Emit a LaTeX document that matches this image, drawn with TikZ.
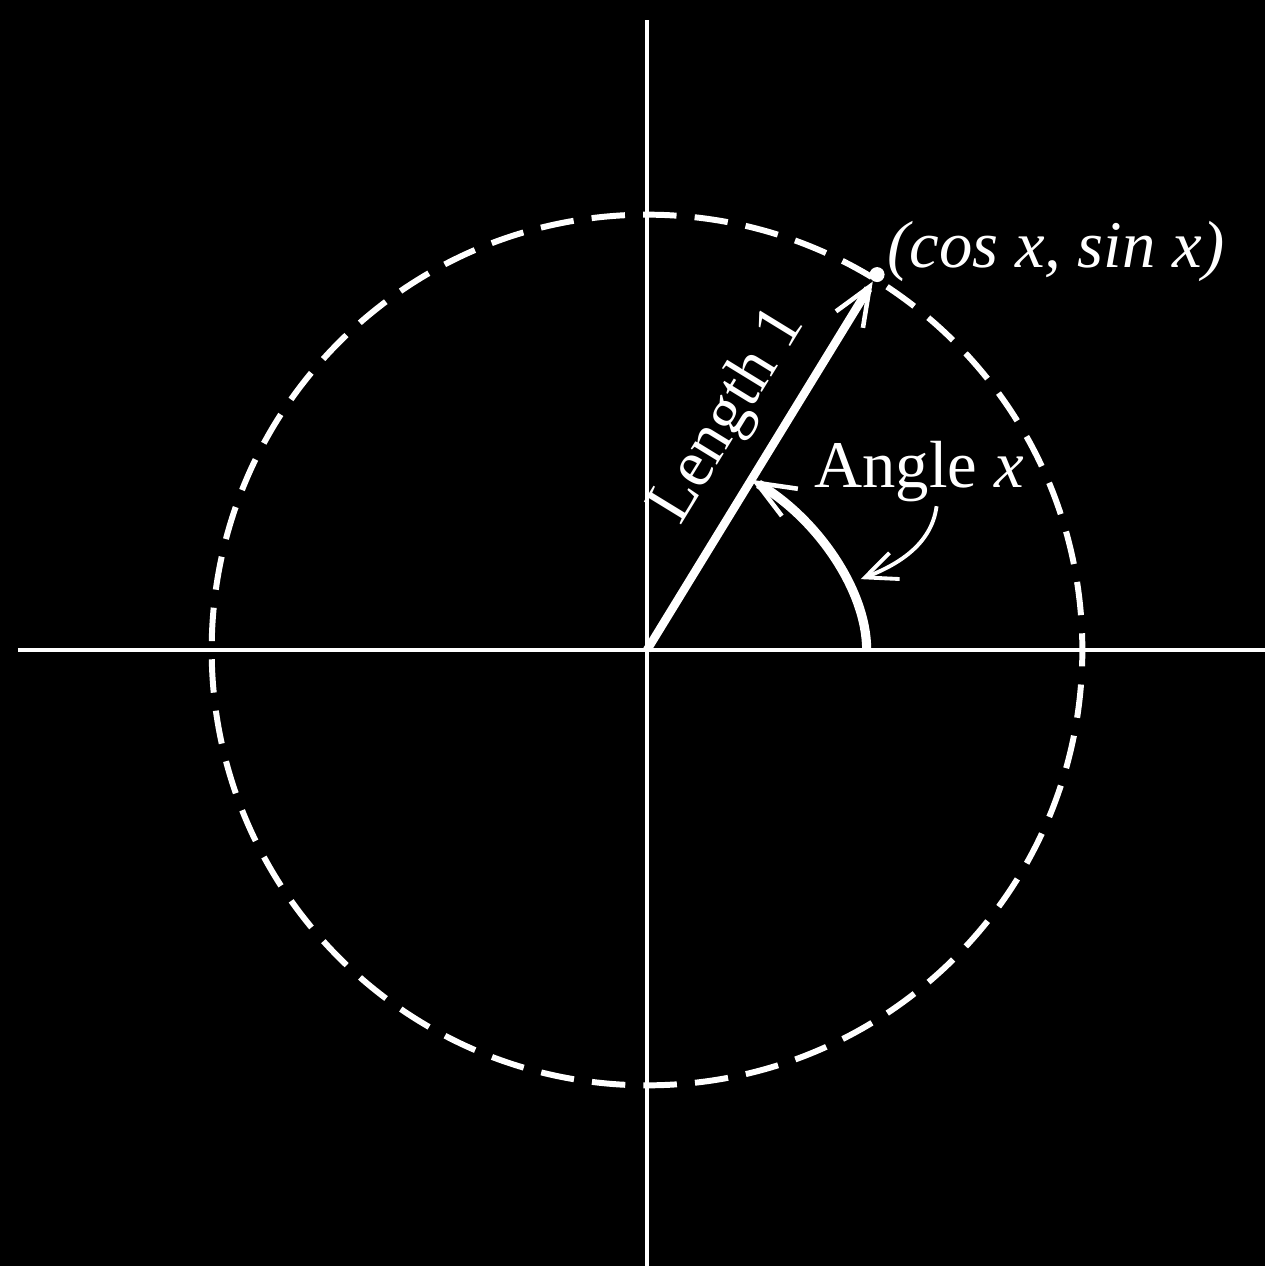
\documentclass[tikz,border=0pt]{standalone}
\usepackage{fontspec}
\setmainfont{Liberation Serif}
\usepackage{tikz}
\usepackage{xcolor}
\usetikzlibrary{arrows.meta, positioning}
\definecolor{board}{RGB}{0,0,0}
\definecolor{chalk}{RGB}{255,255,255}
\tikzstyle{axis}=[draw=chalk, line width=1.1pt]
\tikzstyle{unitcirc}=[draw=chalk, line width=1.7pt,
  dash pattern=on 0.335cm off 0.182cm, dash phase=0.1675cm]
\tikzstyle{ptdot}=[circle, fill=chalk, inner sep=0pt, minimum size=0.15cm]
\tikzstyle{radarr}=[-{Straight Barb[length=11pt, width=9pt, line width=1.3pt]},
  draw=chalk, line width=2.4pt]
\tikzstyle{anglearc}=[-{Straight Barb[length=11pt, width=9pt, line width=1.3pt]},
  draw=chalk, line width=2.6pt]
\tikzstyle{pointer}=[-{Straight Barb[length=9pt, width=8pt, line width=1.1pt]},
  draw=chalk, line width=1.1pt]
\tikzstyle{lbl}=[text=chalk, font=\fontsize{19}{23}\selectfont, inner sep=0pt]

\begin{document}
\begin{tikzpicture}
  \fill[board] (-6.48,-6.17) rectangle (6.19,6.51);
  \coordinate (o) at (0,0);
  \coordinate (xl) at (-6.30,0);
  \coordinate (xr) at (6.19,0);
  \coordinate (yb) at (0,-6.17);
  \coordinate (yt) at (0,6.31);
  \draw[axis] (xl) -- (xr);
  \draw[axis] (yb) -- (yt);
  \draw[unitcirc] (o) circle (4.36);
  \node[ptdot] (pt) at (58.5:4.41) {};
  \draw[radarr] (o) -- (pt)
    node[lbl, pos=0.56, sloped, above=5pt] (len) {Length 1};
  \coordinate (a0) at (2.20,0);
  \coordinate (a1) at (58.5:2.0);
  \draw[anglearc] (a0) .. controls (2.20,0.60) and (1.70,1.32) .. (a1);
  \node[lbl, anchor=base west] (ang) at (1.67,1.63) {Angle \textit{x}};
  \node[lbl, anchor=base west] (coords) at (2.40,3.83) {\itshape (cos x, sin x)};
  \coordinate (p0) at (2.90,1.44);
  \coordinate (p1) at (2.14,0.71);
  \draw[pointer] (p0) .. controls (2.85,1.05) and (2.50,0.85) .. (p1);
\end{tikzpicture}
\end{document}
